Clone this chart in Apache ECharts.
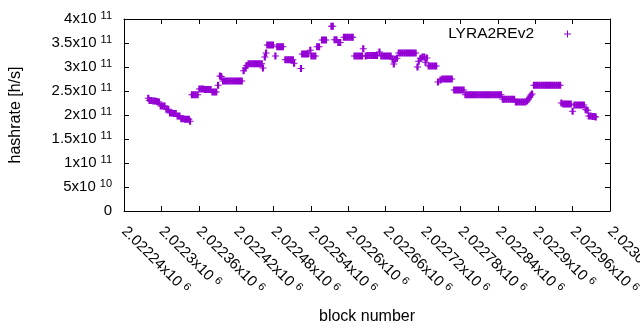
<!DOCTYPE html>
<html>
<head>
<meta charset="utf-8">
<script src="https://cdn.jsdelivr.net/npm/echarts@6/dist/echarts.min.js"></script>
<style>html,body{margin:0;padding:0;background:#fff}#c{width:640px;height:330px}</style>
</head>
<body>
<div id="c"></div>
<script>
const seriesName = 'LYRA2REv2';
const xAxisTitle = 'block number';
const yAxisTitle = 'hashrate [h/s]';

// block numbers (x)
const blockNumbers = [
  2022279,2022281,2022284,2022287,2022290,2022293,2022296,2022299,2022302,2022305,2022308,2022311,
  2022314,2022317,2022320,2022323,2022326,2022329,2022332,2022335,2022338,2022341,2022344,2022346,
  2022349,2022352,2022355,2022358,2022361,2022364,2022367,2022370,2022373,2022376,2022379,
  2022382,2022385,2022388,2022391,2022394,2022396,
  2022399,2022402,2022405,2022408,2022411,2022414,2022417,2022420,2022423,2022426,2022429,
  2022432,2022435,2022437,2022440,2022443,2022446,2022449,2022452,2022455,2022458,2022461,2022463,2022466,2022468,
  2022470,2022473,2022476,2022479,2022483,2022486,2022489,2022492,2022495,
  2022499,2022502,2022505,2022508,2022511,2022513,2022524,2022526,2022529,2022532,2022535,2022539,
  2022541,2022544,2022547,2022550,2022553,2022558,2022561,2022564,2022573,2022575,
  2022578,2022581,2022584,2022587,2022593,2022596,2022599,2022602,2022605,2022607,
  2022610,2022613,2022616,2022619,2022622,2022624,2022628,2022631,2022634,2022637,2022640,2022643,2022646,2022650,
  2022653,2022656,2022659,2022662,2022665,2022668,2022671,2022673,2022675,2022678,
  2022681,2022684,2022687,2022690,2022693,2022696,2022699,2022702,2022705,2022708,2022711,
  2022713,2022716,2022719,2022722,2022724,2022726,2022729,2022732,2022735,2022738,2022741,
  2022744,2022748,2022751,2022754,2022757,2022760,2022763,2022766,
  2022770,2022773,2022776,2022779,2022782,2022785,
  2022788,2022791,2022794,2022797,2022800,2022803,2022806,2022809,2022812,2022815,
  2022818,2022821,2022824,2022827,2022830,2022833,2022836,2022839,2022842,2022845,
  2022848,2022851,2022854,2022857,2022860,2022863,2022866,
  2022869,2022872,2022875,2022878,2022881,2022884,2022887,2022889,2022891,2022893,2022895,
  2022898,2022901,2022904,2022907,2022910,2022913,2022916,2022919,
  2022922,2022925,2022928,2022931,2022934,2022937,2022940,
  2022942,2022945,2022948,2022951,2022954,2022957,2022960,
  2022963,2022966,2022969,2022972,2022975,2022978,2022981,2022984,
  2022986,2022989,2022992,2022995,2022997
];

// hashrate in GH/s (x 1e9 h/s)
const hashrateGH = [
  235,230,230,229,229,228,227,219,219,219,212,212,
  204,204,203,203,198,198,192,192,191,191,191,187,
  242,242,242,242,254,254,254,253,253,253,253,
  248,248,248,262,281,280,
  271,271,271,271,271,271,271,271,271,271,271,
  292,298,303,307,307,307,307,307,307,307,307,298,321,329,
  346,346,346,346,323,342,342,342,342,
  315,315,315,315,315,308,297,327,327,327,327,335,
  323,323,323,342,342,356,356,356,385,385,
  357,357,351,351,362,362,362,362,362,362,
  323,323,323,323,323,338,323,324,324,324,324,324,324,331,
  323,323,323,323,323,323,316,306,316,318,
  329,329,329,329,329,329,329,329,329,329,300,
  312,318,321,321,310,319,302,302,302,302,302,
  269,273,275,275,275,275,275,275,
  252,252,252,252,252,252,
  242,242,242,242,242,242,242,242,242,242,
  242,242,242,242,242,242,242,242,242,242,
  233,233,233,233,233,233,233,
  227,227,227,227,227,227,229,233,237,241,244,
  262,262,262,262,262,262,262,262,
  262,262,262,262,262,262,262,
  225,223,223,223,223,223,208,
  221,221,221,221,221,221,211,210,
  198,198,197,197,196
];

const xMin = 2022240, xMax = 2023020, xStep = 60;
const yMin = 0, yMax = 4e11, yStep = 5e10;

const points = blockNumbers.map((b, i) => [b, hashrateGH[i] * 1e9]);

const FONT = 'Liberation Sans';
const COLOR = '#9400d3';
const plusPath = 'path://M0 30H24V0H46V30H70V40H46V70H24V40H0Z';
const legendPlus = 'path://M0 30H30V0H40V30H70V40H40V70H30V40H0Z';

const rich = {
  a: { fontSize: 15, fontFamily: FONT, color: '#000', lineHeight: 18 },
  s: { fontSize: 11, fontFamily: FONT, color: '#000', lineHeight: 11, verticalAlign: 'top', padding: [0, 0, 0, 4] }
};
const xLabel = v => '{a|' + parseFloat((v / 1e6).toFixed(5)) + 'x10}{s|6}';
const yLabel = v => {
  if (v === 0) return '{a|0}';
  const e = Math.floor(Math.log10(v) + 1e-9);
  const m = parseFloat((v / Math.pow(10, e)).toFixed(3));
  return '{a|' + m + 'x10}{s|' + e + '}';
};

const lineStyle = { color: '#000', width: 1 };
const baseX = {
  type: 'value', min: xMin, max: xMax, interval: xStep,
  axisLine: { show: true, onZero: false, lineStyle },
  axisTick: { show: true, inside: true, length: 5, lineStyle },
  splitLine: { show: false }
};
const baseY = {
  type: 'value', min: yMin, max: yMax, interval: yStep,
  axisLine: { show: true, onZero: false, lineStyle },
  axisTick: { show: true, inside: true, length: 5, lineStyle },
  splitLine: { show: false }
};

const chart = echarts.init(document.getElementById('c'), null, { renderer: 'canvas' });
chart.setOption({
  animation: false,
  backgroundColor: '#fff',
  grid: { left: 124, right: 30, top: 19, bottom: 119, containLabel: false, outerBoundsMode: 'none' },
  legend: {
    data: [{ name: seriesName, icon: legendPlus }], right: 69, top: 26, padding: 0, align: 'right',
    itemWidth: 7, itemHeight: 7, selectedMode: false,
    textStyle: { fontSize: 15.5, fontFamily: FONT, color: '#000', padding: [0, 25, 0, 0] }
  },
  xAxis: [
    Object.assign({}, baseX, {
      position: 'bottom',
      axisLabel: { rotate: -45, margin: 18, formatter: xLabel, rich, showMinLabel: true, showMaxLabel: true, hideOverlap: false },
      name: xAxisTitle, nameLocation: 'middle', nameGap: 98,
      nameTextStyle: { fontSize: 16, fontFamily: FONT, color: '#000' }
    }),
    Object.assign({}, baseX, { position: 'top', axisLabel: { show: false } })
  ],
  yAxis: [
    Object.assign({}, baseY, {
      position: 'left',
      axisLabel: { margin: 12, formatter: yLabel, rich },
      name: yAxisTitle, nameLocation: 'middle', nameGap: 100, nameRotate: 90,
      nameTextStyle: { fontSize: 16, fontFamily: FONT, color: '#000' }
    }),
    Object.assign({}, baseY, { position: 'right', axisLabel: { show: false } })
  ],
  series: [{
    type: 'scatter', name: seriesName, data: points,
    xAxisIndex: 0, yAxisIndex: 0,
    symbol: plusPath, symbolSize: 7,
    itemStyle: { color: COLOR, opacity: 1 },
    emphasis: { disabled: true }
  }]
});
</script>
</body>
</html>
